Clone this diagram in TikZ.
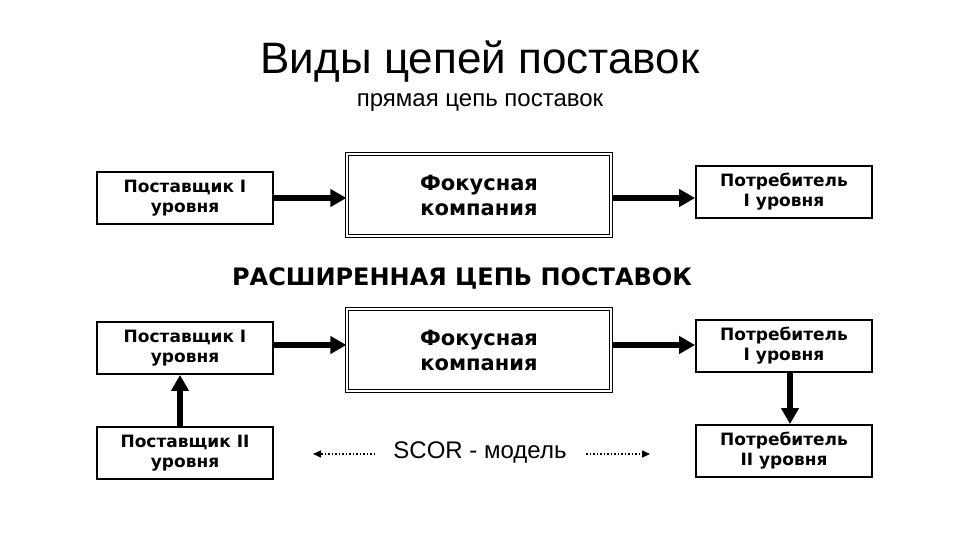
\documentclass[tikz,border=0pt]{standalone}
\usepackage{fontspec}
\setmainfont{Liberation Sans}
\newfontfamily\boxfont{DejaVu Sans}
\usetikzlibrary{arrows.meta}
\begin{document}
\begin{tikzpicture}[x=1pt,y=-1pt,
 bx/.style={draw,line width=1.8pt,minimum width=176pt,minimum height=52pt,font=\boxfont\bfseries\fontsize{17}{20}\selectfont,align=center,inner sep=0pt},
 fb/.style={draw,double,double distance=1.5pt,line width=1.2pt,minimum width=264pt,minimum height=82pt,font=\boxfont\bfseries\fontsize{21}{25}\selectfont,align=center},
 arr/.style={line width=6.5pt,-{Triangle[length=16pt,width=17pt]}},
 dar/.style={line width=1.5pt,dotted,-{Triangle[length=8pt,width=7pt]}}]
\fill[white] (0,0) rectangle (960,540);
\node (title) at (480,62) {\fontsize{44}{50}\selectfont Виды цепей поставок};
\node (sub) at (480,103) {\fontsize{24}{28}\selectfont прямая цепь поставок};
\node[bx] (a1) at (185,198) {Поставщик I\\уровня};
\node[fb] (f1) at (479,195) {Фокусная\\компания};
\node[bx] (c1) at (784,192) {Потребитель\\I уровня};
\draw[arr] (a1.east) -- (f1.west|-a1.east);
\draw[arr] (f1.east|-0,198) -- (c1.west|-0,198);
\node (ext) at (462,278) {\boxfont\bfseries\fontsize{24}{28}\selectfont РАСШИРЕННАЯ ЦЕПЬ ПОСТАВОК};
\node[bx] (a2) at (185,348) {Поставщик I\\уровня};
\node[fb] (f2) at (479,350) {Фокусная\\компания};
\node[bx] (c2) at (784,346) {Потребитель\\I уровня};
\node[bx] (a3) at (185,453) {Поставщик II\\уровня};
\node[bx] (c3) at (784,451) {Потребитель\\II уровня};
\draw[arr] (a2.east|-0,345) -- (f2.west|-0,345);
\draw[arr] (f2.east|-0,345) -- (c2.west|-0,345);
\draw[arr] (a3.north-|180,0) -- (a2.south-|180,0);
\draw[arr] (c2.south-|790,0) -- (c3.north-|790,0);
\node (scor) at (480,453) {\fontsize{24}{28}\selectfont SCOR - модель};
\coordinate (l1) at (375,454); \coordinate (l2) at (313,454);
\coordinate (r1) at (586,454); \coordinate (r2) at (650,454);
\draw[dar] (l1) -- (l2);
\draw[dar] (r1) -- (r2);
\end{tikzpicture}
\end{document}
